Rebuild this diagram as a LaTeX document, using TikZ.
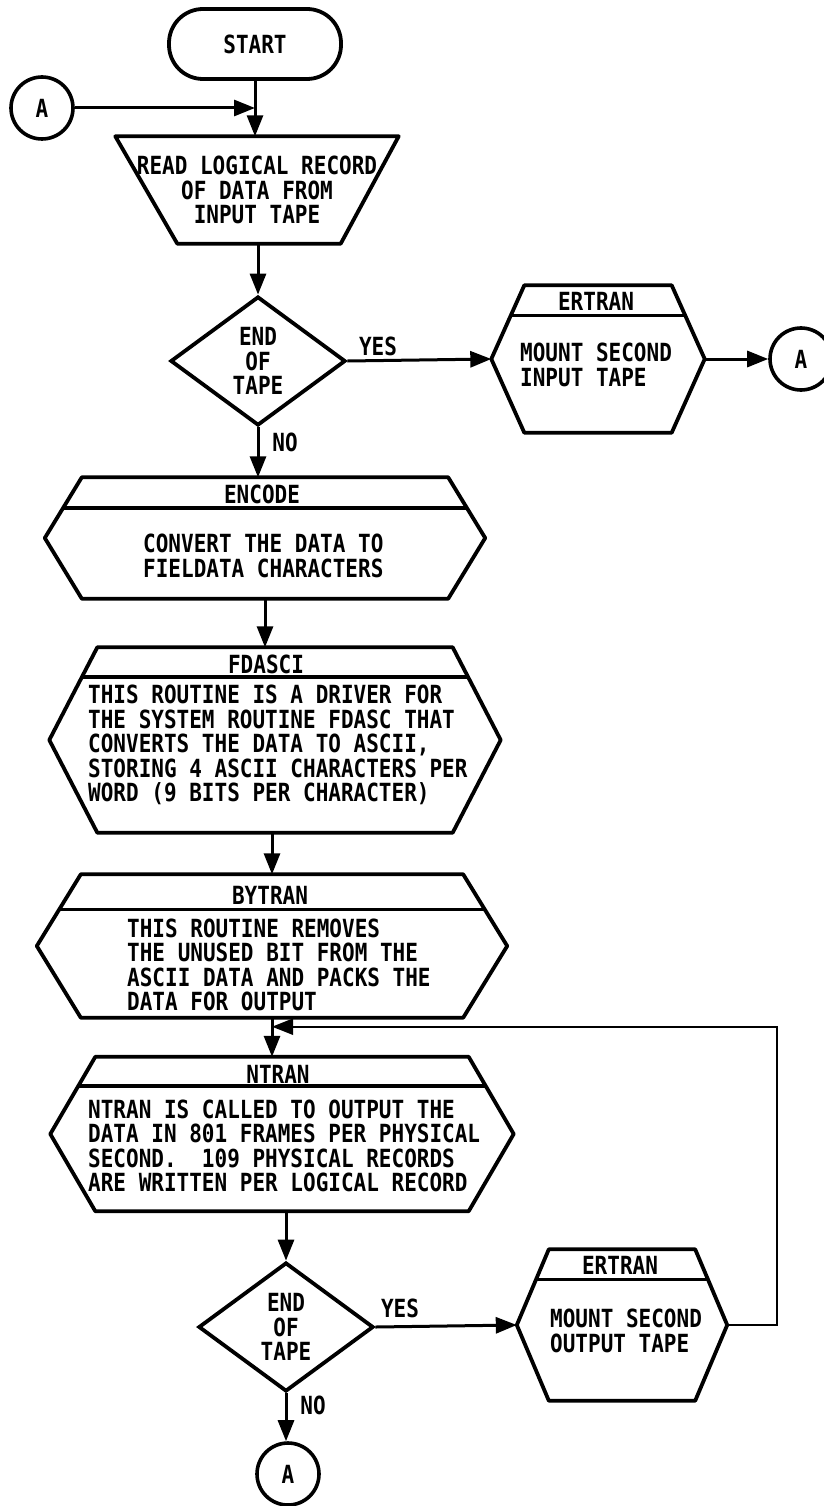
\documentclass[tikz,border=0pt]{standalone}
\usepackage{fontspec}
\newfontfamily\leroy{DejaVu Sans Mono}[FakeStretch=0.84]
\usetikzlibrary{arrows.meta,shapes.geometric,calc}

\tikzset{
  lettering/.style={font=\leroy\bfseries\fontsize{25}{24.5}\selectfont, inner sep=0pt},
  boxline/.style={line width=3.8pt, line join=round},
  hexbox/.style={draw=none, inner sep=0pt},
  flow/.style={line width=3pt, -{Triangle[length=21pt,width=16pt]}},
  loopback/.style={line width=2.2pt, -{Triangle[length=21pt,width=16pt]}},
  onpage/.style={circle, draw, line width=3.6pt, minimum size=62pt, lettering},
  decide/.style={diamond, draw, line width=3.8pt, aspect=1.36, minimum width=175pt, minimum height=129pt, lettering, align=center},
  bodytext/.style={lettering, align=left, anchor=west}
}

\begin{document}
\begin{tikzpicture}[x=1pt, y=-1pt]
        \path[fill=white, use as bounding box] (0,0) rectangle (823,1506);

        \node[lettering, draw, boxline, rounded corners=34pt, minimum width=172pt, minimum height=70pt] (start) at (255,44) {START};
        \node[onpage] (aTop) at (42,108) {A};
        \node[lettering, align=center, minimum width=283pt, minimum height=107pt] (trap) at (257,190) {READ LOGICAL RECORD\\OF DATA FROM\\INPUT TAPE};
        \draw[boxline] (trap.north west) -- (trap.north east) -- ([xshift=-58pt]trap.south east) -- ([xshift=62pt]trap.south west) -- cycle;
                \draw[flow] (start.south) -- (start.south |- trap.north);
                \draw[flow] (aTop.east) -- (aTop.east -| start.south);

        \node[decide] (endA) at (258,361) {END\\OF\\TAPE};
        \node[lettering] (yesA) at (378,346) {YES};
        \node[lettering] (noA) at (285,442) {NO};
                \draw[flow] (endA.north |- trap.south) -- (endA.north);

        \node[hexbox, minimum width=213pt, minimum height=147pt] (ertA) at (598,359) {};
        \draw[boxline] ([xshift=33pt]ertA.north west) -- ([xshift=-33pt]ertA.north east) -- (ertA.east) -- ([xshift=-33pt]ertA.south east) -- ([xshift=33pt]ertA.south west) -- (ertA.west) -- cycle;
        \draw[boxline] ($([xshift=33pt]ertA.north west)!0.41!(ertA.west)$) -- ($([xshift=-33pt]ertA.north east)!0.41!(ertA.east)$);
        \node[lettering] (ertAT) at (596,301) {ERTRAN};
        \node[bodytext] (ertAB) at (520,365) {MOUNT SECOND\\INPUT TAPE};
        \node[onpage] (aRight) at (801,359) {A};
                \draw[flow] (endA.east) -- (ertA.west);
                \draw[flow] (ertA.east) -- (aRight.west);

        \node[hexbox, minimum width=440pt, minimum height=121pt] (enc) at (265,538) {};
        \draw[boxline] ([xshift=37pt]enc.north west) -- ([xshift=-37pt]enc.north east) -- (enc.east) -- ([xshift=-37pt]enc.south east) -- ([xshift=37pt]enc.south west) -- (enc.west) -- cycle;
        \draw[boxline] ($([xshift=37pt]enc.north west)!0.5!(enc.west)$) -- ($([xshift=-37pt]enc.north east)!0.5!(enc.east)$);
        \node[lettering] (encT) at (262,494) {ENCODE};
        \node[bodytext] (encB) at (143,556) {CONVERT THE DATA TO\\FIELDATA CHARACTERS};
                \draw[flow] (endA.south) -- (endA.south |- enc.north);

        \node[hexbox, minimum width=451pt, minimum height=185pt] (fda) at (275,740) {};
        \draw[boxline] ([xshift=48pt]fda.north west) -- ([xshift=-48pt]fda.north east) -- (fda.east) -- ([xshift=-48pt]fda.south east) -- ([xshift=48pt]fda.south west) -- (fda.west) -- cycle;
        \draw[boxline] ($([xshift=48pt]fda.north west)!0.32!(fda.west)$) -- ($([xshift=-48pt]fda.north east)!0.32!(fda.east)$);
        \node[lettering] (fdaT) at (266,664) {FDASCI};
        \node[bodytext] (fdaB) at (88,745) {THIS ROUTINE IS A DRIVER FOR\\THE SYSTEM ROUTINE FDASC THAT\\CONVERTS THE DATA TO ASCII,\\STORING 4 ASCII CHARACTERS PER\\WORD (9 BITS PER CHARACTER)};
                \draw[flow] (enc.south) -- (enc.south |- fda.north);

        \node[hexbox, minimum width=470pt, minimum height=143pt] (byt) at (272,946) {};
        \draw[boxline] ([xshift=44pt]byt.north west) -- ([xshift=-44pt]byt.north east) -- (byt.east) -- ([xshift=-44pt]byt.south east) -- ([xshift=44pt]byt.south west) -- (byt.west) -- cycle;
        \draw[boxline] ($([xshift=44pt]byt.north west)!0.49!(byt.west)$) -- ($([xshift=-44pt]byt.north east)!0.49!(byt.east)$);
        \node[lettering] (bytT) at (270,895) {BYTRAN};
        \node[bodytext] (bytB) at (127,965) {THIS ROUTINE REMOVES\\THE UNUSED BIT FROM THE\\ASCII DATA AND PACKS THE\\DATA FOR OUTPUT};
                \draw[flow] (byt.north |- fda.south) -- (byt.north);

        \node[hexbox, minimum width=463pt, minimum height=154pt] (ntr) at (282,1134) {};
        \draw[boxline] ([xshift=45pt]ntr.north west) -- ([xshift=-45pt]ntr.north east) -- (ntr.east) -- ([xshift=-45pt]ntr.south east) -- ([xshift=45pt]ntr.south west) -- (ntr.west) -- cycle;
        \draw[boxline] ($([xshift=45pt]ntr.north west)!0.38!(ntr.west)$) -- ($([xshift=-45pt]ntr.north east)!0.38!(ntr.east)$);
        \node[lettering] (ntrT) at (278,1074) {NTRAN};
        \node[bodytext] (ntrB) at (88,1146) {NTRAN IS CALLED TO OUTPUT THE\\DATA IN 801 FRAMES PER PHYSICAL\\SECOND.\ \ 109 PHYSICAL RECORDS\\ARE WRITTEN PER LOGICAL RECORD};
        \coordinate (merge) at ([yshift=-9pt]byt.south);
                \draw[flow] (byt.south) -- (byt.south |- ntr.north);

        \node[decide] (endB) at (286,1327) {END\\OF\\TAPE};
        \node[lettering] (yesB) at (400,1308) {YES};
        \node[lettering] (noB) at (313,1405) {NO};
                \draw[flow] (endB.north |- ntr.south) -- (endB.north);

        \node[hexbox, minimum width=210pt, minimum height=151pt] (ertB) at (622,1325) {};
        \draw[boxline] ([xshift=32pt]ertB.north west) -- ([xshift=-32pt]ertB.north east) -- (ertB.east) -- ([xshift=-32pt]ertB.south east) -- ([xshift=32pt]ertB.south west) -- (ertB.west) -- cycle;
        \draw[boxline] ($([xshift=32pt]ertB.north west)!0.40!(ertB.west)$) -- ($([xshift=-32pt]ertB.north east)!0.40!(ertB.east)$);
        \node[lettering] (ertBT) at (620,1265) {ERTRAN};
        \node[bodytext] (ertBB) at (550,1331) {MOUNT SECOND\\OUTPUT TAPE};
                \draw[flow] (endB.east) -- (ertB.west);
                \draw[loopback] (ertB.east) -- ++(50,0) |- (merge);

        \node[onpage] (aBottom) at (288,1474) {A};
                \draw[flow] (endB.south) -- (endB.south |- aBottom.north);
\end{tikzpicture}
\end{document}
